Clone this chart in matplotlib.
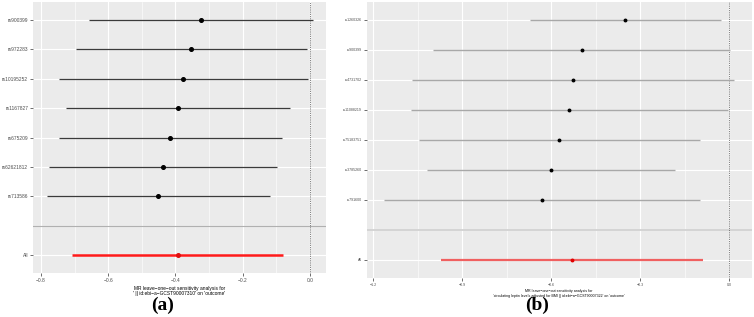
import matplotlib.pyplot as plt
import numpy as np

# panel (a)
snps_a = ["rs900399", "rs972283", "rs10195252", "rs1167827", "rs675209", "rs62621812", "rs713586"]
b_a = [-0.325, -0.354, -0.377, -0.393, -0.416, -0.437, -0.452]
lo_a = [-0.656, -0.697, -0.748, -0.725, -0.748, -0.775, -0.782]
hi_a = [0.008, -0.009, -0.006, -0.059, -0.084, -0.099, -0.120]
all_a = [-0.393, -0.708, -0.079]
xlab_a = "MR leave\u2212one\u2212out sensitivity analysis for\n' || id:ebi\u2212a\u2212GCST90007310' on 'outcome'"
xt_a = [-0.8, -0.6, -0.4, -0.2, 0.0]

# panel (b)
snps_b = ["rs1260326", "rs900399", "rs4731702", "rs11088219", "rs75183751", "rs3785260", "rs791600"]
b_b = [-0.352, -0.498, -0.526, -0.540, -0.573, -0.602, -0.632]
lo_b = [-0.673, -0.999, -1.068, -1.073, -1.045, -1.019, -1.164]
hi_b = [-0.028, 0.002, 0.017, -0.006, -0.099, -0.183, -0.099]
all_b = [-0.531, -0.972, -0.090]
xlab_b = ("MR leave\u2212one\u2212out sensitivity analysis for\n'circulating leptin levels adjusted for BMI || "
          "id:ebi\u2212a\u2212GCST90007322' on 'outcome'")
xt_b = [-1.2, -0.9, -0.6, -0.3, 0.0]

plt.rcParams['font.family'] = ['Liberation Sans', 'DejaVu Sans']

W, H = 754, 317
fig = plt.figure(figsize=(W / 100, H / 100), dpi=100)


def box(x0, y0, x1, y1):
    return [x0 / W, 1 - y1 / H, (x1 - x0) / W, (y1 - y0) / H]


def panel(ax, snps, b, lo, hi, allv, xticks, xlim, xlab, fs, barc, redc, redpt, lw, redlw, ms, sepc, seplw):
    ax.set_facecolor('#EBEBEB')
    for s in ax.spines.values():
        s.set_visible(False)
    ypos = np.arange(len(snps) + 1, 1, -1)
    step = xticks[1] - xticks[0]
    minor = np.arange(xticks[0] - step / 2, xticks[-1] + step, step)
    for m in minor:
        ax.axvline(m, color='white', lw=0.4, zorder=0)
    for t in xticks:
        ax.axvline(t, color='white', lw=0.8, zorder=0)
    for y in list(ypos) + [0]:
        ax.axhline(y, color='white', lw=0.8, zorder=0)
    ax.axhline(1, color=sepc, lw=seplw, zorder=1)
    ax.axvline(0, color='#555555', lw=0.6, ls=(0, (1, 1.2)), zorder=1)
    ax.hlines(ypos, lo, hi, color=barc, lw=lw, zorder=2)
    ax.plot(b, ypos, 'o', color='black', ms=ms, zorder=3)
    ax.hlines(0, allv[1], allv[2], color=redc, lw=redlw, zorder=2)
    ax.plot(allv[0], 0, 'o', color=redpt, ms=ms, zorder=3)
    ax.set_xlim(*xlim)
    ax.set_ylim(-0.6, len(snps) + 1.6)
    ax.set_yticks(list(ypos) + [0])
    ax.set_yticklabels(snps + ["All"])
    ax.set_xticks(xticks)
    ax.set_xticklabels([f"{t:.1f}".replace('-', '\u2212') for t in xticks])
    ax.tick_params(labelsize=fs, colors='#333333', length=2, width=0.5, pad=1.5, labelcolor='#4d4d4d')
    ax.set_xlabel(xlab, fontsize=fs, labelpad=2, linespacing=1.1)


ax1 = fig.add_axes(box(33, 2, 326, 273))
panel(ax1, snps_a, b_a, lo_a, hi_a, all_a, xt_a, (-0.824, 0.048), xlab_a,
      3.5, '#3a3a3a', '#ff1a1a', '#e01010', 0.9, 1.8, 2.6, '#b0b0b0', 0.8)

ax2 = fig.add_axes(box(366.7, 2, 751.7, 277.7))
panel(ax2, snps_b, b_b, lo_b, hi_b, all_b, xt_b, (-1.222, 0.075), xlab_b,
      2.6, '#a8a8a8', '#f06060', '#e00000', 1.0, 1.6, 1.8, '#d4d4d4', 1.4)

fig.text(163 / W, 1 - 305 / H, "(a)", fontsize=14, fontweight='bold',
         family='Liberation Serif', ha='center', va='center')
fig.text(537 / W, 1 - 305 / H, "(b)", fontsize=14, fontweight='bold',
         family='Liberation Serif', ha='center', va='center')

fig.savefig("out.png", dpi=100)
